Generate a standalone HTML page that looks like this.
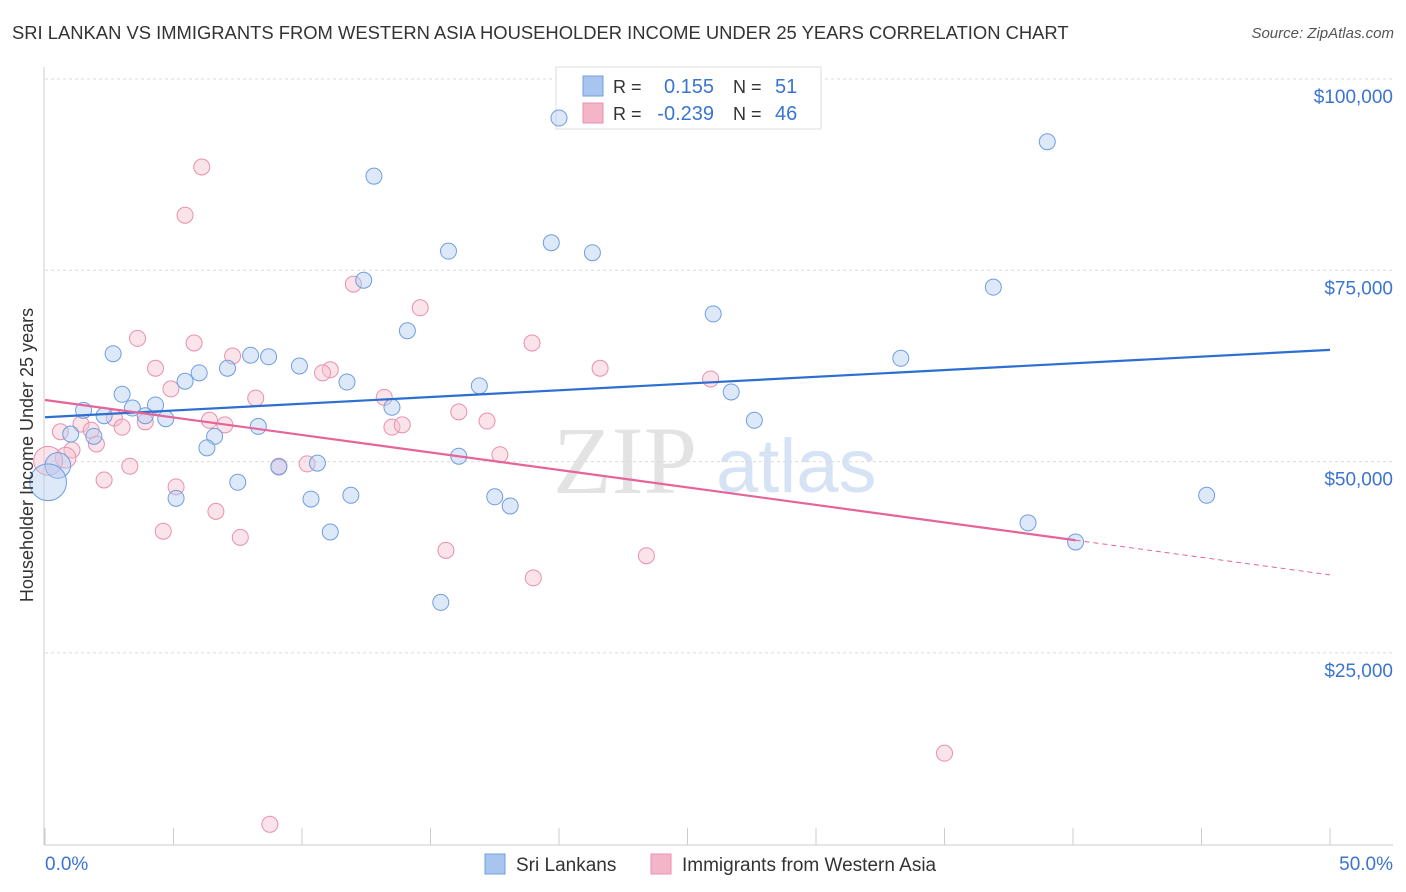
<!DOCTYPE html>
<html><head><meta charset="utf-8"><style>
body{margin:0;background:#fff;font-family:"Liberation Sans",sans-serif;}
#wrap{position:relative;width:1406px;height:892px;overflow:hidden;}
.t{position:absolute;white-space:nowrap;}
</style></head><body>
<div id="wrap">
<div class="t" style="left:12px;top:22px;font-size:18.4px;color:#333;">SRI LANKAN VS IMMIGRANTS FROM WESTERN ASIA HOUSEHOLDER INCOME UNDER 25 YEARS CORRELATION CHART</div>
<div class="t" style="right:12px;top:25px;font-size:15px;color:#555;font-style:italic;">Source: ZipAtlas.com</div>
<svg id="svg" width="1406" height="892" style="position:absolute;left:0;top:0"></svg>
</div>
<script>
const blueX=[20.0,39.0,12.8,15.7,19.7,21.3,12.4,36.9,14.1,26.0,2.65,8.0,8.7,9.9,7.1,6.0,5.45,11.75,16.9,33.3,3.0,26.7,4.3,13.5,1.5,3.4,2.3,3.9,4.7,27.6,8.3,6.6,1.0,1.9,6.3,16.1,10.6,9.1,0.5,0.12,7.5,11.9,5.1,10.35,17.5,18.1,45.2,38.25,11.1,40.1,15.4];
const blueY=[94900,91800,87300,77500,78600,77300,73700,72800,67100,69300,64100,63900,63700,62500,62200,61600,60500,60400,59900,63500,58800,59100,57400,57100,56700,57000,56000,56000,55600,55400,54600,53300,53600,53300,51800,50700,49800,49300,49500,47300,47300,45600,45200,45100,45400,44200,45600,42000,40800,39500,31600];
const blueSize=[1,1,1,1,1,1,1,1,1,1,1,1,1,1,1,1,1,1,1,1,1,1,1,1,1,1,1,1,1,1,1,1,1,1,1,1,1,1,1.6,2.3,1,1,1,1,1,1,1,1,1,1,1];
const pinkX=[6.1,5.45,12.0,14.6,3.6,5.8,18.95,7.3,4.3,11.1,10.8,21.6,25.9,4.9,13.2,8.2,16.1,17.2,6.4,7.0,3.9,2.7,3.0,13.5,13.9,1.4,1.8,2.0,1.05,0.8,0.12,3.3,10.2,9.1,17.7,2.3,5.1,6.65,4.6,7.6,15.6,23.4,19.0,35.0,8.75,0.6];
const pinkY=[88500,82200,73200,70100,66100,65500,65500,63800,62200,62000,61600,62200,60800,59500,58400,58300,56500,55300,55400,54800,55200,55700,54500,54500,54800,54900,54100,52300,51500,50500,50100,49400,49700,49400,50900,47600,46700,43500,40900,40100,38400,37700,34800,11900,2600,53900];
const pinkSize=[1,1,1,1,1,1,1,1,1,1,1,1,1,1,1,1,1,1,1,1,1,1,1,1,1,1,1,1,1,1.3,1.8,1,1,1,1,1,1,1,1,1,1,1,1,1,1,1];
const yTicks=[25000,50000,75000,100000];
const yTickLabels=["$25,000","$50,000","$75,000","$100,000"];
const blueLine=[55800,64600];
const pinkLine=[58050,35200];
const pinkSolidEnd=40.1;

const NS="http://www.w3.org/2000/svg";
const svg=document.getElementById('svg');
const X=v=>45+v*(1285/50);
const Y=v=>79+(100000-v)*(191.3/25000);
function mk(tag,attrs,parent){const e=document.createElementNS(NS,tag);for(const k in attrs)e.setAttribute(k,attrs[k]);(parent||svg).appendChild(e);return e;}
function txt(s,attrs){const e=mk('text',attrs);e.textContent=s;return e;}

let w=txt('ZIP',{x:553,y:493,'font-size':96,'font-family':'Liberation Serif,serif',fill:'#e3e3e3'});


w=txt('atlas',{x:716,y:492,'font-size':76,'font-family':'Liberation Sans,sans-serif',fill:'#d5e3f5'});



yTicks.forEach((t,i)=>{
 const g=mk('line',{x1:45,x2:1393,y1:Y(t),y2:Y(t),stroke:'#dcdcdc','stroke-dasharray':'3,3'});
 
 
 const l=txt(yTickLabels[i],{x:1393,y:Y(t)+24,'text-anchor':'end','font-size':19,fill:'#3b74d1'});
 
 
});
let a=mk('line',{x1:44,x2:44,y1:67,y2:845,stroke:'#ccc'});


a=mk('line',{x1:44,x2:1393,y1:845,y2:845,stroke:'#ccc'});


for(let i=0;i<=10;i++){const tk=mk('line',{x1:X(i*5),x2:X(i*5),y1:828,y2:845,stroke:'#ccc'});
 
 }

// top legend (drawn before dots)
let lg=mk('rect',{x:556,y:67,width:265,height:62,fill:'#fff',stroke:'#ddd'});


[['#a8c5ef','#6f9ee0','0.155','51',86],['#f5b5c9','#e890ad','-0.239','46',113]].forEach(r=>{
 const sq=mk('rect',{x:583,y:r[4]-10,width:20,height:20,fill:r[0],stroke:r[1]});
 
 
 let t=txt('R = ',{x:613,y:r[4]+7,'font-size':18,fill:'#333'});
 
 
 t=txt(r[2],{x:714,y:r[4]+7,'font-size':20,fill:'#3b74d1','text-anchor':'end'});
 
 
 t=txt('N = ',{x:733,y:r[4]+7,'font-size':18,fill:'#333'});
 
 
 t=txt(r[3],{x:775,y:r[4]+7,'font-size':20,fill:'#3b74d1'});
 
 
});

function dots(xs,ys,ss,fill,stroke,name){
 xs.forEach((x,i)=>{const c=mk('circle',{cx:X(x),cy:Y(ys[i]),r:8*ss[i],fill:fill,'fill-opacity':0.45,stroke:stroke,'stroke-width':1});
 
 });
}
dots(pinkX,pinkY,pinkSize,'#f7c0d0','#e890ad','pink-point');
dots(blueX,blueY,blueSize,'#b3cdf1','#6f9ee0','blue-point');

let ln=mk('line',{x1:X(0),y1:Y(blueLine[0]),x2:X(50),y2:Y(blueLine[1]),stroke:'#2d6fd1','stroke-width':2.2});


const py=x=>pinkLine[0]+(pinkLine[1]-pinkLine[0])*x/50;
ln=mk('line',{x1:X(0),y1:Y(py(0)),x2:X(pinkSolidEnd),y2:Y(py(pinkSolidEnd)),stroke:'#e5649a','stroke-width':2.2});


ln=mk('line',{x1:X(pinkSolidEnd),y1:Y(py(pinkSolidEnd)),x2:X(50),y2:Y(py(50)),stroke:'#e5649a','stroke-width':1,'stroke-dasharray':'5,4'});



let yt=txt('Householder Income Under 25 years',{x:0,y:0,'font-size':18,fill:'#333','text-anchor':'middle',transform:'translate(33,455) rotate(-90)'});


let xl=txt('0.0%',{x:45,y:870,'font-size':19,fill:'#3b74d1'});


xl=txt('50.0%',{x:1393,y:870,'font-size':19,fill:'#3b74d1','text-anchor':'end'});



[['#a8c5ef','#6f9ee0','Sri Lankans',485,'legend-sri-lankans'],['#f5b5c9','#e890ad','Immigrants from Western Asia',651,'legend-immigrants']].forEach(r=>{
 const sq=mk('rect',{x:r[3],y:854,width:20,height:20,fill:r[0],stroke:r[1]});
 
 
 const t=txt(r[2],{x:r[3]+31,y:871,'font-size':19,fill:'#333'});
 
 
});
</script>
</body></html>
